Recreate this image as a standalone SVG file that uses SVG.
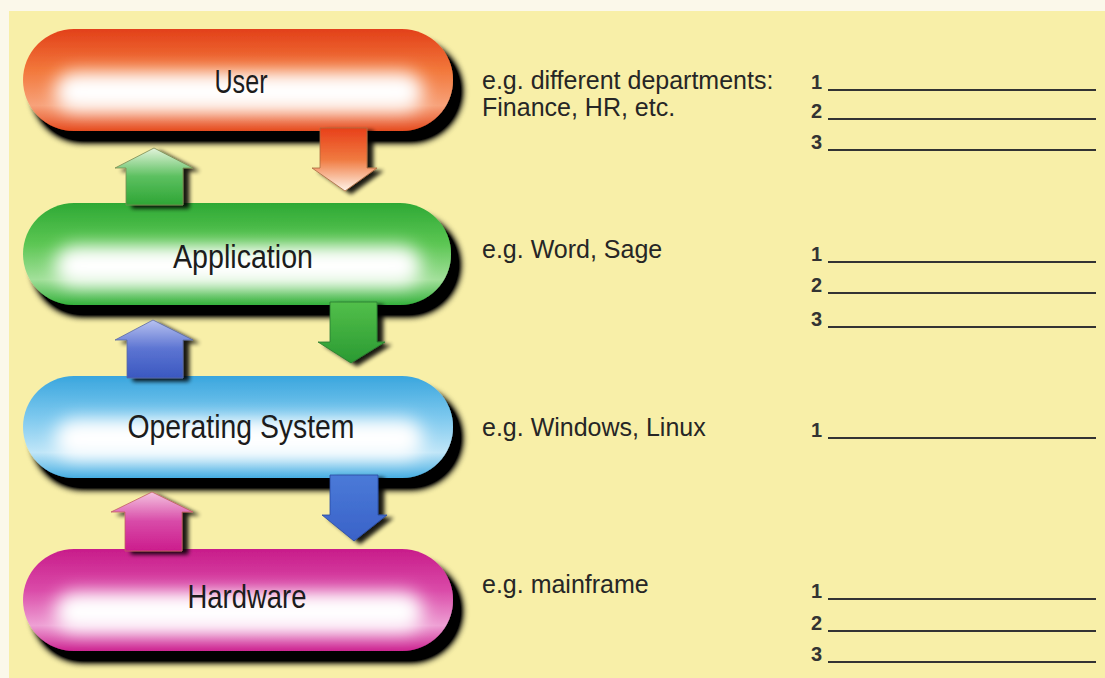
<svg xmlns="http://www.w3.org/2000/svg" width="1105" height="678" viewBox="0 0 1105 678">
<style>
.lbl{font-family:"Liberation Sans",Arial,sans-serif;font-size:33px;fill:#1c1c1c;text-anchor:middle}
.txt{font-family:"Liberation Sans","Open Sans",sans-serif;font-size:25px;fill:#262626}
.num{font-family:"Liberation Sans","Open Sans",sans-serif;font-size:20px;font-weight:bold;fill:#333}
.ln{stroke:#333;stroke-width:1.8;fill:none}
.glow{fill:#fff;filter:url(#blur)}
</style>
<defs>
<filter id="shadow" x="-10%" y="-20%" width="125%" height="150%">
<feGaussianBlur in="SourceAlpha" stdDeviation="3.5" result="b"/>
<feOffset in="b" dx="9" dy="11" result="o"/>
<feComponentTransfer in="o" result="d"><feFuncA type="linear" slope="1.6"/></feComponentTransfer>
<feMerge><feMergeNode in="d"/><feMergeNode in="SourceGraphic"/></feMerge>
</filter>
<filter id="ashadow" x="-30%" y="-30%" width="170%" height="170%">
<feGaussianBlur in="SourceAlpha" stdDeviation="2" result="b"/>
<feOffset in="b" dx="6" dy="3" result="o"/>
<feComponentTransfer in="o" result="d"><feFuncA type="linear" slope="0.9"/></feComponentTransfer>
<feMerge><feMergeNode in="d"/><feMergeNode in="SourceGraphic"/></feMerge>
</filter>
<filter id="blur" x="-20%" y="-50%" width="140%" height="200%"><feGaussianBlur stdDeviation="9"/></filter>
<linearGradient id="gU" x1="0" y1="0" x2="0" y2="1"><stop offset="0" stop-color="#e2401a"/><stop offset="0.4" stop-color="#f2773a"/><stop offset="0.75" stop-color="#f7a27a"/><stop offset="1" stop-color="#e54a1e"/></linearGradient>
<linearGradient id="gA" x1="0" y1="0" x2="0" y2="1"><stop offset="0" stop-color="#2ea935"/><stop offset="0.4" stop-color="#5cc653"/><stop offset="0.75" stop-color="#a2e09a"/><stop offset="1" stop-color="#33b03a"/></linearGradient>
<linearGradient id="gO" x1="0" y1="0" x2="0" y2="1"><stop offset="0" stop-color="#3aa6de"/><stop offset="0.4" stop-color="#7cc8ee"/><stop offset="0.75" stop-color="#c0e6f8"/><stop offset="1" stop-color="#45ade2"/></linearGradient>
<linearGradient id="gH" x1="0" y1="0" x2="0" y2="1"><stop offset="0" stop-color="#c81c8a"/><stop offset="0.4" stop-color="#da4aa8"/><stop offset="0.75" stop-color="#eea0d4"/><stop offset="1" stop-color="#cc2290"/></linearGradient>
<linearGradient id="aGu" x1="0" y1="0" x2="0" y2="1"><stop offset="0" stop-color="#e4f4dc"/><stop offset="0.5" stop-color="#5cc060"/><stop offset="1" stop-color="#2ea535"/></linearGradient>
<linearGradient id="aRd" x1="0" y1="0" x2="0" y2="1"><stop offset="0" stop-color="#e8401a"/><stop offset="0.5" stop-color="#f07a40"/><stop offset="1" stop-color="#fff4ea"/></linearGradient>
<linearGradient id="aBu" x1="0" y1="0" x2="0" y2="1"><stop offset="0" stop-color="#b8c2f0"/><stop offset="0.5" stop-color="#5c74d2"/><stop offset="1" stop-color="#3a58c0"/></linearGradient>
<linearGradient id="aGd" x1="0" y1="0" x2="0" y2="1"><stop offset="0" stop-color="#52bf4a"/><stop offset="1" stop-color="#2a9a32"/></linearGradient>
<linearGradient id="aPu" x1="0" y1="0" x2="0" y2="1"><stop offset="0" stop-color="#f4c4e0"/><stop offset="0.5" stop-color="#d84aa8"/><stop offset="1" stop-color="#cc1c8c"/></linearGradient>
<linearGradient id="aBd" x1="0" y1="0" x2="0" y2="1"><stop offset="0" stop-color="#4a7ad8"/><stop offset="1" stop-color="#3a62c8"/></linearGradient>
<clipPath id="cU"><rect x="23" y="29" width="430" height="102" rx="51"/></clipPath>
<clipPath id="cA"><rect x="23" y="203" width="428" height="102" rx="51"/></clipPath>
<clipPath id="cO"><rect x="23" y="376" width="430" height="102" rx="51"/></clipPath>
<clipPath id="cH"><rect x="23" y="549" width="430" height="102" rx="51"/></clipPath>
</defs>
<rect x="0" y="0" width="1105" height="678" fill="#fbf8ea"/>
<rect x="9" y="11" width="1096" height="667" fill="#f8efa8"/>

<g id="node-user">
<g filter="url(#shadow)"><rect x="23" y="29" width="430" height="102" rx="51" fill="url(#gU)"/></g>
<g clip-path="url(#cU)"><rect class="glow" x="55" y="72" width="368" height="40" rx="20"/></g>
<text class="lbl" x="241" y="93" textLength="53" lengthAdjust="spacingAndGlyphs">User</text>
</g>
<g id="node-application">
<g filter="url(#shadow)"><rect x="23" y="203" width="428" height="102" rx="51" fill="url(#gA)"/></g>
<g clip-path="url(#cA)"><rect class="glow" x="55" y="246" width="366" height="40" rx="20"/></g>
<text class="lbl" x="243" y="268" textLength="140" lengthAdjust="spacingAndGlyphs">Application</text>
</g>
<g id="node-os">
<g filter="url(#shadow)"><rect x="23" y="376" width="430" height="102" rx="51" fill="url(#gO)"/></g>
<g clip-path="url(#cO)"><rect class="glow" x="55" y="419" width="368" height="40" rx="20"/></g>
<text class="lbl" x="241" y="438" textLength="227" lengthAdjust="spacingAndGlyphs">Operating System</text>
</g>
<g id="node-hardware">
<g filter="url(#shadow)"><rect x="23" y="549" width="430" height="102" rx="51" fill="url(#gH)"/></g>
<g clip-path="url(#cH)"><rect class="glow" x="55" y="592" width="368" height="40" rx="20"/></g>
<text class="lbl" x="247" y="608" textLength="119" lengthAdjust="spacingAndGlyphs">Hardware</text>
</g>

<g id="connectors">
<polygon filter="url(#ashadow)" points="154,148 193,168 183,168 183,205 126,205 126,168 115,168" fill="url(#aGu)" stroke="#7a8a50" stroke-width="0.8"/>
<polygon filter="url(#ashadow)" points="320,128 367,128 367,168 377,168 345,191 312,168 320,168" fill="url(#aRd)" stroke="#a86a40" stroke-width="0.8"/>
<polygon filter="url(#ashadow)" points="153,320 193,340 183,340 183,378 127,378 127,340 115,340" fill="url(#aBu)" stroke="#5a6aa0" stroke-width="0.8"/>
<polygon filter="url(#ashadow)" points="330,302 377,302 377,342 385,342 351,363 318,342 330,342" fill="url(#aGd)" stroke="#2a7a30" stroke-width="0.8"/>
<polygon filter="url(#ashadow)" points="152,492 193,512 182,512 182,551 125,551 125,512 111,512" fill="url(#aPu)" stroke="#c06060" stroke-width="0.8"/>
<polygon filter="url(#ashadow)" points="330,475 378,475 378,515 387,515 354,541 322,515 330,515" fill="url(#aBd)" stroke="#2a4aa0" stroke-width="0.8"/>
</g>

<g id="desc-user">
<text class="txt" x="482" y="89">e.g. different departments:</text>
<text class="txt" x="482" y="116">Finance, HR, etc.</text>
<text class="num" x="811" y="89">1</text><line class="ln" x1="828" y1="90" x2="1096" y2="90"/>
<text class="num" x="811" y="118">2</text><line class="ln" x1="828" y1="119" x2="1096" y2="119"/>
<text class="num" x="811" y="149">3</text><line class="ln" x1="828" y1="150" x2="1096" y2="150"/>
</g>
<g id="desc-application">
<text class="txt" x="482" y="258">e.g. Word, Sage</text>
<text class="num" x="811" y="261">1</text><line class="ln" x1="828" y1="262" x2="1096" y2="262"/>
<text class="num" x="811" y="292">2</text><line class="ln" x1="828" y1="293" x2="1096" y2="293"/>
<text class="num" x="811" y="326">3</text><line class="ln" x1="828" y1="327" x2="1096" y2="327"/>
</g>
<g id="desc-os">
<text class="txt" x="482" y="436">e.g. Windows, Linux</text>
<text class="num" x="811" y="437">1</text><line class="ln" x1="828" y1="438" x2="1096" y2="438"/>
</g>
<g id="desc-hardware">
<text class="txt" x="482" y="593">e.g. mainframe</text>
<text class="num" x="811" y="598">1</text><line class="ln" x1="828" y1="599" x2="1096" y2="599"/>
<text class="num" x="811" y="630">2</text><line class="ln" x1="828" y1="631" x2="1096" y2="631"/>
<text class="num" x="811" y="661">3</text><line class="ln" x1="828" y1="662" x2="1096" y2="662"/>
</g>
</svg>
